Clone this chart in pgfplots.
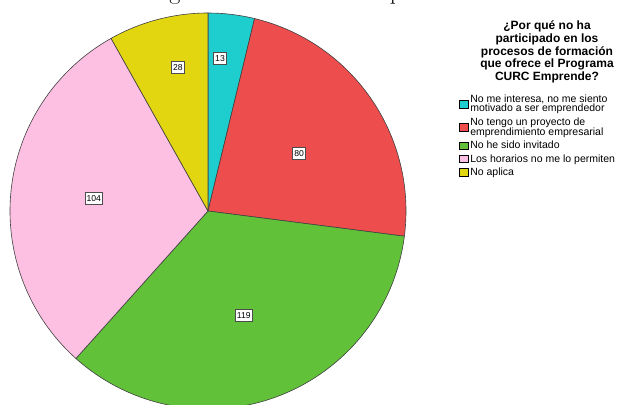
\documentclass[border=0pt]{standalone}
\usepackage{pgfplots}
\usepackage{pgfplotstable}
\pgfplotsset{compat=1.18}
\usepackage{fontspec}
\newfontfamily\arial{Liberation Sans}

\definecolor{pie0}{RGB}{30,205,205}
\definecolor{pie1}{RGB}{238,77,77}
\definecolor{pie2}{RGB}{97,194,58}
\definecolor{pie3}{RGB}{253,192,226}
\definecolor{pie4}{RGB}{226,214,16}

% value = count; la, lr = direction and distance of the value box from the centre
\pgfplotstableread{
value la lr
13 85.5 153
80 32.5 108
119 -71 110
104 173.5 115
28 101.8 147
}\piedata

% total and wedge angles (clockwise from the top)
\def\total{0}%
\pgfplotsforeachungrouped \i in {0,...,4}{%
  \pgfplotstablegetelem{\i}{value}\of\piedata
  \pgfmathsetmacro\total{\total+\pgfplotsretval}}%
\def\acc{90}%
\pgfplotsforeachungrouped \i in {0,...,4}{%
  \pgfplotstablegetelem{\i}{value}\of\piedata
  \expandafter\xdef\csname pv\i\endcsname{\pgfplotsretval}%
  \pgfmathsetmacro\pspan{\pgfplotsretval/\total*360}%
  \expandafter\xdef\csname ps\i\endcsname{\acc}%
  \pgfmathsetmacro\acc{\acc-\pspan}%
  \expandafter\xdef\csname pe\i\endcsname{\acc}%
  \pgfplotstablegetelem{\i}{la}\of\piedata
  \expandafter\xdef\csname pa\i\endcsname{\pgfplotsretval}%
  \pgfplotstablegetelem{\i}{lr}\of\piedata
  \expandafter\xdef\csname pr\i\endcsname{\pgfplotsretval}%
}%

\begin{document}
\begin{tikzpicture}
\begin{axis}[
    hide axis,
    xtick=\empty, ytick=\empty,
    x=1pt, y=1pt,
    xmin=0, xmax=617, ymin=0, ymax=404,
    scale only axis,
    clip=true,
    clip bounding box=upper bound,
    legend image code/.code={\draw[#1, draw=black, line width=0.6pt] (0pt,-3.8pt) rectangle (9pt,4pt);},
    legend style={at={(axis cs:459,311)}, anchor=north west, draw=none, fill=none,
        font=\arial\fontsize{10.5}{9.6}\selectfont, inner sep=0pt,
        cells={anchor=west, align=left}, row sep=1pt,
        nodes={inner sep=1.5pt}},
    ]
    \pgfplotsinvokeforeach{0,...,4}{
        \filldraw[fill=pie#1, draw=black!75, line width=0.6pt]
            (axis cs:208,193) -- ++({\csname ps#1\endcsname}:198pt)
            arc[start angle={\csname ps#1\endcsname}, end angle={\csname pe#1\endcsname}, radius=198pt] -- cycle;
    }
    \pgfplotsinvokeforeach{0,...,4}{
        \path (axis cs:208,193) ++({\csname pa#1\endcsname}:{\csname pr#1\endcsname pt})
            node[fill=white, draw=black!70, line width=0.6pt, inner xsep=1.6pt, inner ysep=2.8pt,
                 text height=6.2pt, text depth=0pt,
                 font=\arial\fontsize{8.6}{9}\selectfont] {\csname pv#1\endcsname};
    }
    \addlegendimage{fill=pie0}
    \addlegendentry{No me interesa, no me siento\\motivado a ser emprendedor}
    \addlegendimage{fill=pie1}
    \addlegendentry{No tengo un proyecto de\\emprendimiento empresarial}
    \addlegendimage{fill=pie2}
    \addlegendentry{No he sido invitado}
    \addlegendimage{fill=pie3}
    \addlegendentry{Los horarios no me lo permiten}
    \addlegendimage{fill=pie4}
    \addlegendentry{No aplica}
    \node[align=center, font=\arial\bfseries\fontsize{12}{12.7}\selectfont]
        at (axis cs:547,352) {¿Por qué no ha\\participado en los\\procesos de formación\\que ofrece el Programa\\CURC Emprende?};
    % descenders of the caption line that is cut off above the chart
    \node[anchor=base, inner sep=0pt, font=\fontsize{24}{24}\selectfont] at (axis cs:175,404) {g};
    \node[anchor=base, inner sep=0pt, font=\fontsize{24}{24}\selectfont] at (axis cs:396,404) {p};
\end{axis}
\end{tikzpicture}
\end{document}
